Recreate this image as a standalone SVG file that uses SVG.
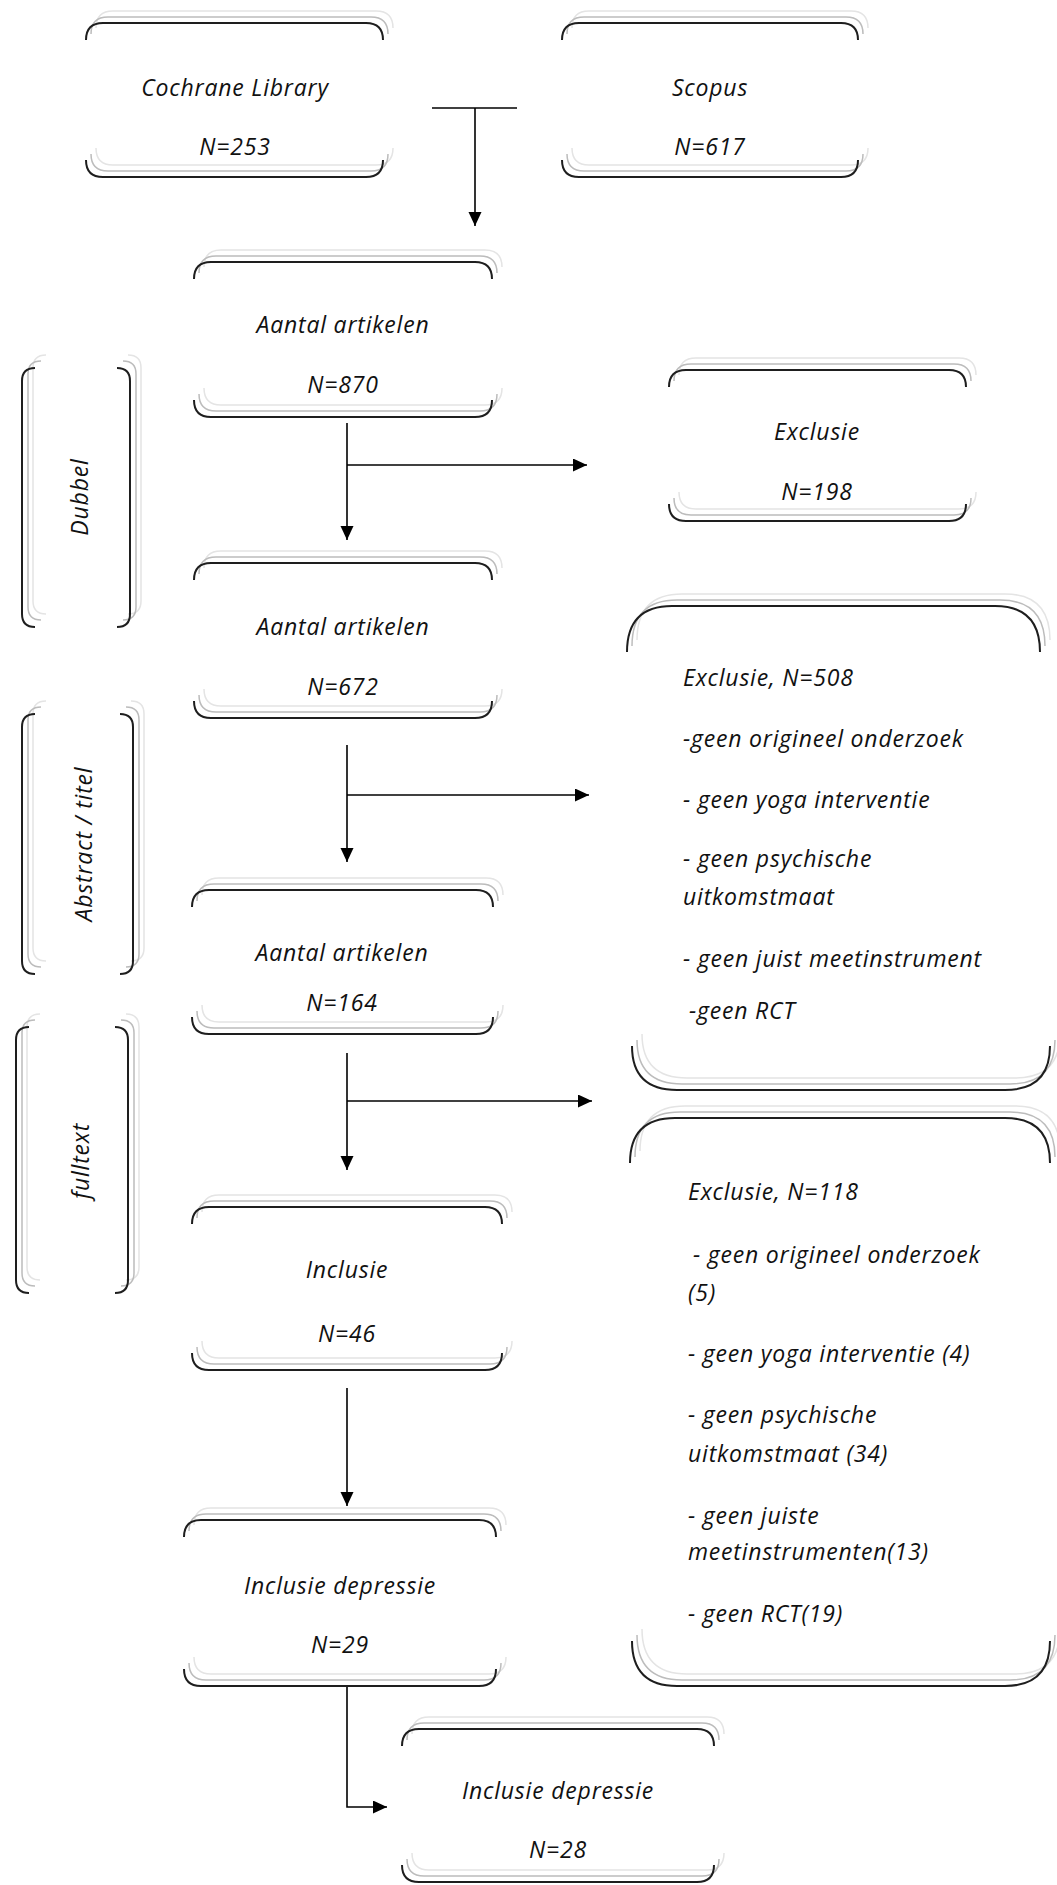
<svg xmlns="http://www.w3.org/2000/svg" xmlns:xlink="http://www.w3.org/1999/xlink" width="1057" height="1885" viewBox="0 0 1057 1885">
<style>
.k{fill:none;stroke:#1e1e1e;stroke-width:2}
.s1{fill:none;stroke:#bcbcbc;stroke-width:1.5}
.s2{fill:none;stroke:#e4e4e4;stroke-width:1.5}
.t{font-family:"Open Sans","Noto Sans","Liberation Sans",sans-serif;font-style:italic;font-size:23px;letter-spacing:0.8px;fill:#111}
.c{text-anchor:middle}
.ln{fill:none;stroke:#000;stroke-width:1.6}
</style>
<defs>
<marker id="ah" markerUnits="userSpaceOnUse" markerWidth="15" markerHeight="14" refX="14" refY="6.5" orient="auto">
<path d="M0,0 L14,6.5 L0,13 z" fill="#000"/>
</marker>
<path id="p-cochrane" d="M86,40 Q86,23 103,23 H366 Q383,23 383,40 M86,160 Q86,177 103,177 H366 Q383,177 383,160"/>
<path id="p-scopus" d="M562,40 Q562,23 579,23 H841 Q858,23 858,40 M562,160 Q562,177 579,177 H841 Q858,177 858,160"/>
<path id="p-870" d="M194,279 Q194,262 211,262 H475 Q492,262 492,279 M194,400 Q194,417 211,417 H475 Q492,417 492,400"/>
<path id="p-198" d="M669,387 Q669,370 686,370 H949 Q966,370 966,387 M669,504 Q669,521 686,521 H949 Q966,521 966,504"/>
<path id="p-672" d="M194,580 Q194,563 211,563 H475 Q492,563 492,580 M194,701 Q194,718 211,718 H475 Q492,718 492,701"/>
<path id="p-164" d="M192,907 Q192,890 209,890 H476 Q493,890 493,907 M192,1017 Q192,1034 209,1034 H476 Q493,1034 493,1017"/>
<path id="p-incl" d="M192,1224 Q192,1207 209,1207 H485 Q502,1207 502,1224 M192,1353 Q192,1370 209,1370 H485 Q502,1370 502,1353"/>
<path id="p-29" d="M184,1537 Q184,1520 201,1520 H479 Q496,1520 496,1537 M184,1669 Q184,1686 201,1686 H479 Q496,1686 496,1669"/>
<path id="p-28" d="M402,1746 Q402,1729 419,1729 H697 Q714,1729 714,1746 M402,1865 Q402,1882 419,1882 H697 Q714,1882 714,1865"/>
<path id="p-508" d="M627,652 Q627,606 672,606 H995 Q1040,606 1040,652 M632,1046 Q632,1090 677,1090 H1005 Q1050,1090 1050,1046"/>
<path id="p-118" d="M630,1163 Q630,1118 675,1118 H1005 Q1050,1118 1050,1163 M632,1641 Q632,1686 677,1686 H1005 Q1050,1686 1050,1641"/>
<path id="p-dubbel" d="M35,368 Q22,368 22,381 V614 Q22,627 35,627 M117,368 Q130,368 130,381 V614 Q130,627 117,627"/>
<path id="p-abstract" d="M35,714 Q22,714 22,727 V961 Q22,974 35,974 M120,714 Q133,714 133,727 V961 Q133,974 120,974"/>
<path id="p-fulltext" d="M29,1027 Q16,1027 16,1040 V1280 Q16,1293 29,1293 M115,1027 Q128,1027 128,1040 V1280 Q128,1293 115,1293"/>
</defs>

<g id="connectors">
<line class="ln" x1="432" y1="108" x2="517" y2="108"/>
<line class="ln" x1="475" y1="108" x2="475" y2="226" marker-end="url(#ah)"/>
<line class="ln" x1="347" y1="423" x2="347" y2="540" marker-end="url(#ah)"/>
<line class="ln" x1="347" y1="465" x2="587" y2="465" marker-end="url(#ah)"/>
<line class="ln" x1="347" y1="745" x2="347" y2="862" marker-end="url(#ah)"/>
<line class="ln" x1="347" y1="795" x2="589" y2="795" marker-end="url(#ah)"/>
<line class="ln" x1="347" y1="1053" x2="347" y2="1170" marker-end="url(#ah)"/>
<line class="ln" x1="347" y1="1101" x2="592" y2="1101" marker-end="url(#ah)"/>
<line class="ln" x1="347" y1="1388" x2="347" y2="1506" marker-end="url(#ah)"/>
<polyline class="ln" points="347,1686 347,1807 387,1807" marker-end="url(#ah)"/>
</g>

<g id="cochrane">
<use xlink:href="#p-cochrane" class="s2" x="10" y="-12"/><use xlink:href="#p-cochrane" class="s1" x="5" y="-6"/><use xlink:href="#p-cochrane" class="k"/>
<text class="t c" x="235" y="96">Cochrane Library</text>
<text class="t c" x="235" y="155">N=253</text>
</g>
<g id="scopus">
<use xlink:href="#p-scopus" class="s2" x="10" y="-12"/><use xlink:href="#p-scopus" class="s1" x="5" y="-6"/><use xlink:href="#p-scopus" class="k"/>
<text class="t c" x="710" y="96">Scopus</text>
<text class="t c" x="710" y="155">N=617</text>
</g>
<g id="artikelen-870">
<use xlink:href="#p-870" class="s2" x="10" y="-12"/><use xlink:href="#p-870" class="s1" x="5" y="-6"/><use xlink:href="#p-870" class="k"/>
<text class="t c" x="343" y="333">Aantal artikelen</text>
<text class="t c" x="343" y="393">N=870</text>
</g>
<g id="exclusie-198">
<use xlink:href="#p-198" class="s2" x="10" y="-12"/><use xlink:href="#p-198" class="s1" x="5" y="-6"/><use xlink:href="#p-198" class="k"/>
<text class="t c" x="817" y="440">Exclusie</text>
<text class="t c" x="817" y="500">N=198</text>
</g>
<g id="artikelen-672">
<use xlink:href="#p-672" class="s2" x="10" y="-12"/><use xlink:href="#p-672" class="s1" x="5" y="-6"/><use xlink:href="#p-672" class="k"/>
<text class="t c" x="343" y="635">Aantal artikelen</text>
<text class="t c" x="343" y="695">N=672</text>
</g>
<g id="exclusie-508">
<use xlink:href="#p-508" class="s2" x="10" y="-12"/><use xlink:href="#p-508" class="s1" x="5" y="-6"/><use xlink:href="#p-508" class="k"/>
<text class="t" x="683" y="686">Exclusie, N=508</text>
<text class="t" x="683" y="747">-geen origineel onderzoek</text>
<text class="t" x="683" y="808">- geen yoga interventie</text>
<text class="t" x="683" y="867">- geen psychische</text>
<text class="t" x="683" y="905">uitkomstmaat</text>
<text class="t" x="683" y="967">- geen juist meetinstrument</text>
<text class="t" x="689" y="1019">-geen RCT</text>
</g>
<g id="artikelen-164">
<use xlink:href="#p-164" class="s2" x="10" y="-12"/><use xlink:href="#p-164" class="s1" x="5" y="-6"/><use xlink:href="#p-164" class="k"/>
<text class="t c" x="342" y="961">Aantal artikelen</text>
<text class="t c" x="342" y="1011">N=164</text>
</g>
<g id="exclusie-118">
<use xlink:href="#p-118" class="s2" x="10" y="-12"/><use xlink:href="#p-118" class="s1" x="5" y="-6"/><use xlink:href="#p-118" class="k"/>
<text class="t" x="688" y="1200">Exclusie, N=118</text>
<text class="t" x="693" y="1263">- geen origineel onderzoek</text>
<text class="t" x="688" y="1301">(5)</text>
<text class="t" x="688" y="1362">- geen yoga interventie (4)</text>
<text class="t" x="688" y="1423">- geen psychische</text>
<text class="t" x="688" y="1462">uitkomstmaat (34)</text>
<text class="t" x="688" y="1524">- geen juiste</text>
<text class="t" x="688" y="1560">meetinstrumenten(13)</text>
<text class="t" x="688" y="1622">- geen RCT(19)</text>
</g>
<g id="inclusie">
<use xlink:href="#p-incl" class="s2" x="10" y="-12"/><use xlink:href="#p-incl" class="s1" x="5" y="-6"/><use xlink:href="#p-incl" class="k"/>
<text class="t c" x="347" y="1278">Inclusie</text>
<text class="t c" x="347" y="1342">N=46</text>
</g>
<g id="depressie-29">
<use xlink:href="#p-29" class="s2" x="10" y="-12"/><use xlink:href="#p-29" class="s1" x="5" y="-6"/><use xlink:href="#p-29" class="k"/>
<text class="t c" x="340" y="1594">Inclusie depressie</text>
<text class="t c" x="340" y="1653">N=29</text>
</g>
<g id="depressie-28">
<use xlink:href="#p-28" class="s2" x="10" y="-12"/><use xlink:href="#p-28" class="s1" x="5" y="-6"/><use xlink:href="#p-28" class="k"/>
<text class="t c" x="558" y="1799">Inclusie depressie</text>
<text class="t c" x="558" y="1858">N=28</text>
</g>
<g id="dubbel">
<use xlink:href="#p-dubbel" class="s2" x="11" y="-13"/><use xlink:href="#p-dubbel" class="s1" x="6" y="-7"/><use xlink:href="#p-dubbel" class="k"/>
<text class="t c" x="80" y="505" transform="rotate(-90 80 497)">Dubbel</text>
</g>
<g id="abstract-titel">
<use xlink:href="#p-abstract" class="s2" x="11" y="-13"/><use xlink:href="#p-abstract" class="s1" x="6" y="-7"/><use xlink:href="#p-abstract" class="k"/>
<text class="t c" x="84" y="852" transform="rotate(-90 84 844)">Abstract / titel</text>
</g>
<g id="fulltext">
<use xlink:href="#p-fulltext" class="s2" x="11" y="-13"/><use xlink:href="#p-fulltext" class="s1" x="6" y="-7"/><use xlink:href="#p-fulltext" class="k"/>
<text class="t c" x="81" y="1169" transform="rotate(-90 81 1161)">fulltext</text>
</g>
</svg>
